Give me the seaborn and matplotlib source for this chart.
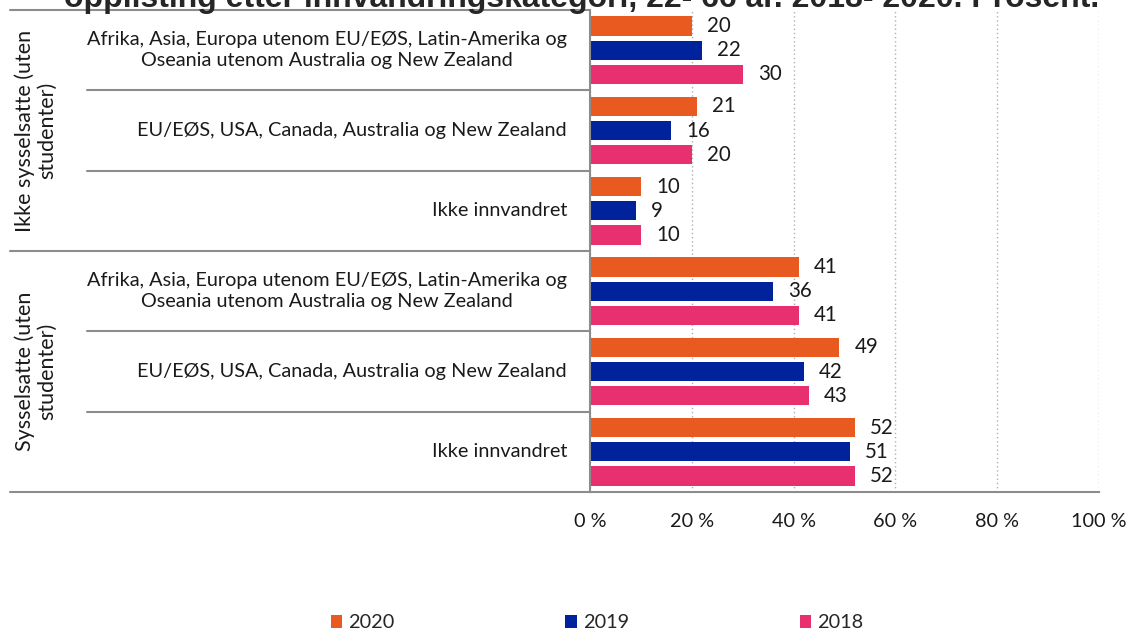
import matplotlib
matplotlib.use("Agg")
import matplotlib.pyplot as plt
import matplotlib.transforms as mtransforms
from matplotlib.lines import Line2D
import seaborn as sns
import pandas as pd

# ---------------- data ----------------
title = "opplisting etter innvandringskategori, 22- 66 år. 2018- 2020. Prosent."
groups = ["Ikke sysselsatte (uten\nstudenter)", "Sysselsatte (uten\nstudenter)"]
categories = [
    "Afrika, Asia, Europa utenom EU/EØS, Latin-Amerika og\nOseania utenom Australia og New Zealand",
    "EU/EØS, USA, Canada, Australia og New Zealand",
    "Ikke innvandret",
]
years = ["2020", "2019", "2018"]
v2020 = [20, 21, 10, 41, 49, 52]
v2019 = [22, 16, 9, 36, 42, 51]
v2018 = [30, 20, 10, 41, 43, 52]
xticks = [0, 20, 40, 60, 80, 100]
xticklabels = ["0 %", "20 %", "40 %", "60 %", "80 %", "100 %"]
colors = ["#E95A20", "#00239C", "#E83070"]

# ---------------- build table ----------------
rows = [f"{g}|{c}" for g in groups for c in categories]
records = []
for yr, vals in zip(years, [v2020, v2019, v2018]):
    for r, v in zip(rows, vals):
        records.append({"row": r, "year": yr, "value": v})
df = pd.DataFrame(records)

sns.set_style("white")
plt.rcParams["font.family"] = ["Lato", "DejaVu Sans"]

TXT = "#1a1a1a"
FS = 14.3

W, H = 1129, 632
fig = plt.figure(figsize=(W / 100, H / 100), dpi=100)
ax_left, ax_right, ax_top, ax_bot = 590, 1099, 10, 492
ax = fig.add_axes([ax_left / W, 1 - ax_bot / H, (ax_right - ax_left) / W, (ax_bot - ax_top) / H])

sns.barplot(data=df, y="row", x="value", hue="year", order=rows, hue_order=years,
            palette=colors, orient="h", width=0.9, gap=0.2, linewidth=0,
            saturation=1, ax=ax, legend=True)

handles, labels = ax.get_legend_handles_labels()
ax.get_legend().remove()

ax.set_xlim(0, 100)
ax.set_ylim(len(rows) - 0.5, -0.5)
ax.set_xlabel("")
ax.set_ylabel("")
ax.set_xticks(xticks)
ax.set_xticklabels(xticklabels, fontsize=FS, color=TXT)
ax.set_yticks([])
ax.tick_params(axis="x", direction="out", length=5, width=1.5, color="#8c8c8c", pad=10)

for s in ["top", "right"]:
    ax.spines[s].set_visible(False)
for s in ["left", "bottom"]:
    ax.spines[s].set_color("#8c8c8c")
    ax.spines[s].set_linewidth(1.5)

ax.xaxis.grid(True, linestyle=(0, (1, 2)), color="#b0b0b0", linewidth=1)
ax.set_axisbelow(True)

# value labels
for cont in ax.containers:
    ax.bar_label(cont, padding=11, fontsize=FS + 0.5, color=TXT)

# left table-like labels
tr = mtransforms.blended_transform_factory(fig.transFigure, ax.transData)
line_kw = dict(color="#8c8c8c", linewidth=1.5, transform=tr, clip_on=False)
n = len(categories)
for i in range(len(rows) + 1):
    y = i - 0.5
    x0 = 10 if i % n == 0 else 87
    fig.add_artist(Line2D([x0 / W, ax_left / W], [y, y], **line_kw))

for gi, g in enumerate(groups):
    fig.text(36 / W, gi * n + (n - 1) / 2, g, transform=tr, rotation=90,
             ha="center", va="center", multialignment="center",
             fontsize=15.5, color=TXT, linespacing=1.15)
    for ci, c in enumerate(categories):
        fig.text(567 / W, gi * n + ci, c, transform=tr, ha="right", va="center",
                 multialignment="center", fontsize=FS, color=TXT,
                 linespacing=1.25)

# title (partially cut at top as in the reference)
fig.text(582 / W, 1 - 7 / H, title, ha="center", va="baseline",
         fontsize=23, fontweight="bold", family=["Liberation Sans", "DejaVu Sans"])

# legend
fig.legend(handles, labels, loc="center", bbox_to_anchor=(597 / W, 1 - 623 / H),
           ncol=3, frameon=False, fontsize=FS, handlelength=0.57, handleheight=0.57,
           handletextpad=0.3, columnspacing=8.6, borderpad=0)

fig.savefig("out.png", dpi=100)
